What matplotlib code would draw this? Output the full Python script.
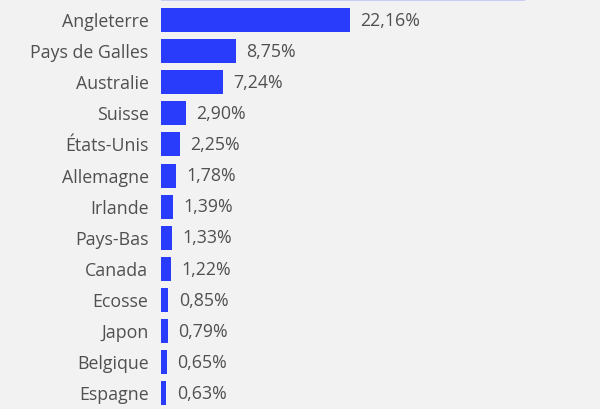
import matplotlib.pyplot as plt

# data (first row is a bar cut off at the top edge)
pays = ["", "Angleterre", "Pays de Galles", "Australie", "Suisse", "États-Unis",
        "Allemagne", "Irlande", "Pays-Bas", "Canada", "Ecosse", "Japon",
        "Belgique", "Espagne"]
parts = [42.7, 22.16, 8.75, 7.24, 2.90, 2.25, 1.78, 1.39, 1.33, 1.22,
         0.85, 0.79, 0.65, 0.63]
etiquettes = ["", "22,16%", "8,75%", "7,24%", "2,90%", "2,25%", "1,78%",
              "1,39%", "1,33%", "1,22%", "0,85%", "0,79%", "0,65%", "0,63%"]

plt.rcParams['font.family'] = ['Open Sans', 'DejaVu Sans']

fond = '#f2f2f2'
bleu = '#2a3cfb'
gris = '#505050'

fig = plt.figure(figsize=(6, 4.09), dpi=100, facecolor=fond)
ax = fig.add_axes([161 / 600, 0, 439 / 600, 1])
ax.set_facecolor(fond)

pos = list(range(len(pays)))
couleurs = ['#c9cdf6'] + [bleu] * (len(pays) - 1)
ax.barh(pos, parts, height=0.77, color=couleurs)

for i in pos:
    if etiquettes[i]:
        ax.annotate(etiquettes[i], (parts[i], i), xytext=(7.5, -0.5),
                    textcoords='offset points', va='center', ha='left',
                    fontsize=12.8, color=gris)

ax.set_yticks(pos)
ax.set_yticklabels(pays, fontsize=12.8, color=gris)
ax.tick_params(axis='y', length=0, pad=9.0)
ax.set_xticks([])
for s in ax.spines.values():
    s.set_visible(False)

ax.autoscale(False)
ax.set_xlim(0, 439 / 8.53)
ax.set_ylim(0.355 + 409 / 31.1, 0.355)

fig.savefig('out.png', dpi=100, facecolor=fond)
